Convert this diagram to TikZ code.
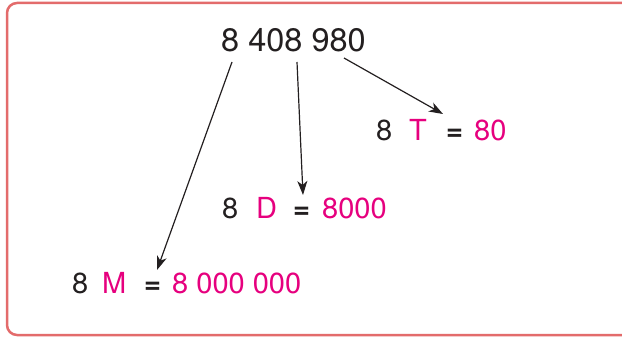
\documentclass[tikz,border=0pt]{standalone}
\usepackage{fontspec}
\setmainfont{TeX Gyre Heros}
\usetikzlibrary{arrows.meta}
\definecolor{framered}{HTML}{E36B6B}
\definecolor{pinktxt}{HTML}{E6007E}
\definecolor{inkblack}{HTML}{231F20}
\begin{document}
\begin{tikzpicture}[x=1pt,y=1pt,
  big/.style={inner sep=0pt,anchor=base west,text=inkblack,font=\fontsize{32.5}{38}\selectfont},
  lbl/.style={inner sep=0pt,anchor=base west,text=inkblack,font=\fontsize{29}{34}\selectfont},
  pk/.style={lbl,text=pinktxt},
  eqs/.style={lbl,font=\fontsize{29}{34}\selectfont\bfseries},
  arr/.style={-{Stealth[length=14pt,width=10pt,inset=4pt]},line width=1.2pt,draw=inkblack}]
\useasboundingbox (0,0) rectangle (622,338);
\draw[framered,line width=2.5pt,rounded corners=10pt] (622,335) -- (7,335) -- (7,3) -- (622,3);
% top number
\node[big] (num) at (221,286) {8 408 980};
% T line
\node[lbl] (t8) at (376,197) {8};
\node[pk] (tT) at (409,197) {T};
\node[eqs] (teq) at (446,197) {=};
\node[pk] (tv) at (474,197) {80};
% D line
\node[lbl] (d8) at (222,120) {8};
\node[pk] (dD) at (256,120) {D};
\node[eqs] (deq) at (293,120) {=};
\node[pk] (dv) at (322,120) {8000};
% M line
\node[lbl] (m8) at (72,45) {8};
\node[pk] (mM) at (102,45) {M};
\node[eqs] (meq) at (144,45) {=};
\node[pk] (mv) at (172,45) {8 000 000};
% arrow endpoints
\coordinate (s1) at (232,276);
\coordinate (e1) at (157,68);
\coordinate (s2) at (297,276);
\coordinate (e2) at (303,143);
\coordinate (s3) at (344,280);
\coordinate (e3) at (443,224);
\draw[arr] (s1) -- (e1);
\draw[arr] (s2) -- (e2);
\draw[arr] (s3) -- (e3);
\end{tikzpicture}
\end{document}
